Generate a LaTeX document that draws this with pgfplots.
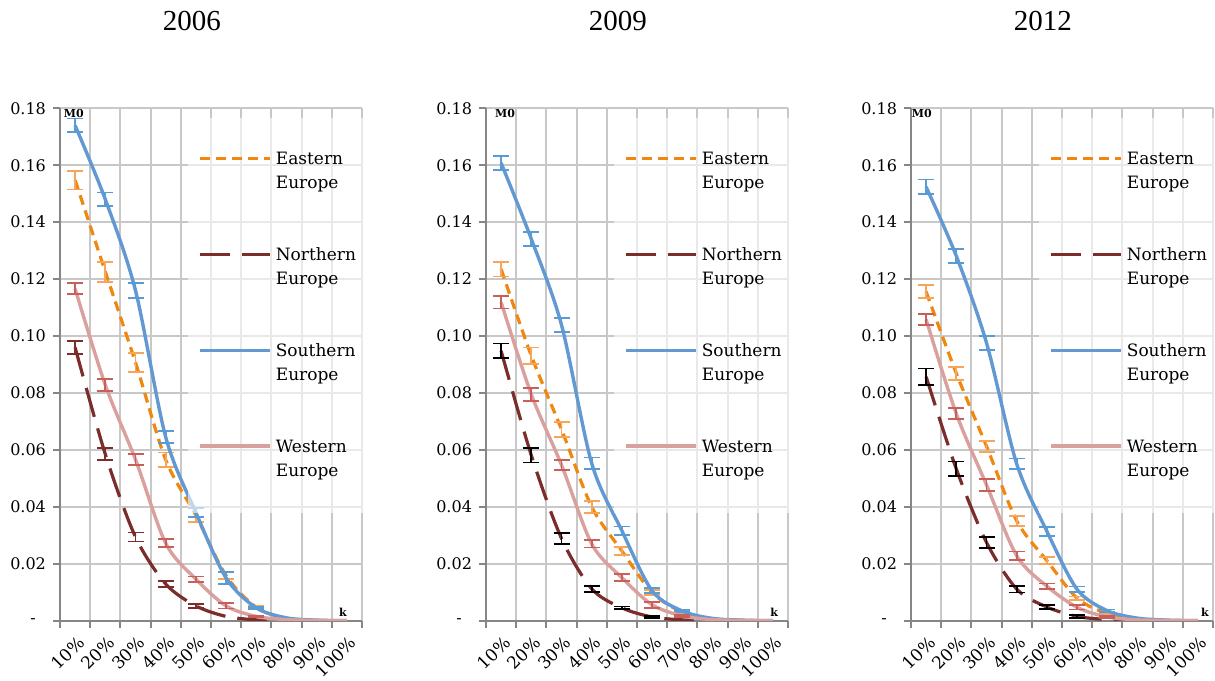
\documentclass[border=0pt]{standalone}
\usepackage{pgfplots}
\pgfplotsset{compat=1.18}
\usepackage{fontspec}
\setmainfont{DejaVu Serif}
\newfontfamily\titlefont{Liberation Serif}

\definecolor{eastc}{RGB}{240,135,15}
\definecolor{easte}{RGB}{247,165,90}
\definecolor{northc}{RGB}{122,45,42}
\definecolor{southc}{RGB}{98,153,211}
\definecolor{southe}{RGB}{91,155,213}
\definecolor{westc}{RGB}{218,160,157}
\definecolor{weste}{RGB}{200,95,90}
\definecolor{gridc}{RGB}{200,200,200}
\definecolor{axisc}{RGB}{134,134,134}

\pgfplotsset{
  panel/.style={
    scale only axis, width=151pt, height=256.2pt,
    anchor=south west,
    xmin=0.5, xmax=10.5, ymin=0, ymax=0.18,
    axis x line*=bottom, axis y line*=left,
    axis line style={axisc, line width=1pt, -},
    xtick={1,2,3,4,5,6,7,8,9,10},
    xticklabels={10\%,20\%,30\%,40\%,50\%,60\%,70\%,80\%,90\%,100\%},
    major x tick style={draw=none},
    minor xtick={0.5,1.5,2.5,3.5,4.5,5.5,6.5,7.5,8.5,9.5,10.5},
    xminorgrids=true, ymajorgrids=true,
    grid style={gridc, line width=1pt},
    minor grid style={gridc, line width=1pt},
    ytick={0,0.02,0.04,0.06,0.08,0.10,0.12,0.14,0.16,0.18},
    yticklabels={-\hphantom{0},0.02,0.04,0.06,0.08,0.10,0.12,0.14,0.16,0.18},
    tick align=outside,
    major tick length=3.5pt, minor tick length=3.5pt,
    tick style={axisc, line width=1pt},
    yticklabel style={font=\fontsize{8}{9}\selectfont},
    xticklabel style={font=\fontsize{8.5}{10}\selectfont, xshift=5.5pt, yshift=-3.5pt, rotate=45, anchor=east},
    title style={font=\titlefont\fontsize{14.5}{17}\selectfont, at={(0.437,1)}, anchor=base, yshift=33pt},
    legend style={at={(0.424,0.981)}, anchor=north west, draw=none, fill=white,
      fill opacity=0.6, text opacity=1, font=\fontsize{8.5}{12}\selectfont,
      cells={align=left, anchor=base west}, row sep=24pt, inner xsep=5pt, inner ysep=15pt},
    legend image code/.code={\draw[##1] (0pt,15pt) -- (35pt,15pt);},
    clip=true,
  },
  eline/.style={eastc, line width=1.6pt, dash pattern=on 5pt off 3pt, smooth},
  nline/.style={northc, line width=1.6pt, dash pattern=on 15pt off 6pt, smooth},
  sline/.style={southc, line width=1.7pt, smooth},
  wline/.style={westc, line width=1.7pt, smooth},
  ebar/.style={draw=none, forget plot, mark=none, error bars/.cd, y dir=both, y explicit,
     error mark options={rotate=90, mark size=4pt, line width=0.9pt, #1},
     error bar style={line width=0.9pt, #1}},
}
\newcommand{\labels}[2]{%
  \node[font=\bfseries\fontsize{5.5}{6}\selectfont] at (rel axis cs:#1,0.989) {M0};
  \node[font=\bfseries\fontsize{5.5}{6}\selectfont] at (rel axis cs:#2,0.016) {k};
}

\begin{document}
\begin{tikzpicture}
\useasboundingbox (0,0) rectangle (607.5pt,340pt);

% ---------------- 2006 ----------------
\begin{axis}[panel, at={(30pt,29.65pt)}, title={2006}]
\addplot[eline] coordinates {(1,0.1548)(2,0.1226)(3,0.0907)(4,0.0565)(5,0.0370)(6,0.0158)(7,0.0047)(8,0.0008)(9,0.0001)(10,0)};
\addlegendentry{Eastern\\Europe}
\addplot[ebar=easte] coordinates {(1,0.1548)+-(0,0.0033)(2,0.1226)+-(0,0.0035)(3,0.0907)+-(0,0.0032)(4,0.0565)+-(0,0.0026)(5,0.0370)+-(0,0.0024)(6,0.0158)+-(0,0.0011)(7,0.0047)+-(0,0.0005)};
\addplot[nline] coordinates {(1,0.0960)(2,0.0585)(3,0.0294)(4,0.0129)(5,0.0052)(6,0.0015)(7,0.0003)(8,0)(9,0)(10,0)};
\addlegendentry{Northern\\Europe}
\addplot[ebar=northc] coordinates {(1,0.0960)+-(0,0.0022)(2,0.0585)+-(0,0.0021)(3,0.0294)+-(0,0.0016)(4,0.0129)+-(0,0.0011)(5,0.0052)+-(0,0.0006)};
\addplot[sline] coordinates {(1,0.1740)(2,0.1480)(3,0.1160)(4,0.0645)(5,0.0380)(6,0.0150)(7,0.0045)(8,0.0010)(9,0.0002)(10,0)};
\addlegendentry{Southern\\Europe}
\addplot[ebar=southe] coordinates {(1,0.1740)+-(0,0.0024)(2,0.1480)+-(0,0.0024)(3,0.1160)+-(0,0.0025)(4,0.0645)+-(0,0.0021)(5,0.0380)+-(0,0.0016)(6,0.0150)+-(0,0.0021)(7,0.0045)+-(0,0.0004)};
\addplot[wline] coordinates {(1,0.1166)(2,0.0828)(3,0.0566)(4,0.0272)(5,0.0146)(6,0.0052)(7,0.0015)(8,0.0004)(9,0.0001)(10,0)};
\addlegendentry{Western\\Europe}
\addplot[ebar=weste] coordinates {(1,0.1166)+-(0,0.0019)(2,0.0828)+-(0,0.0021)(3,0.0566)+-(0,0.0019)(4,0.0272)+-(0,0.0014)(5,0.0146)+-(0,0.0009)(6,0.0052)+-(0,0.0009)(7,0.0015)+-(0,0.0003)};
\labels{0.046}{0.937}
\end{axis}

% ---------------- 2009 ----------------
\begin{axis}[panel, at={(243pt,29.65pt)}, title={2009}]
\addplot[eline] coordinates {(1,0.1235)(2,0.0931)(3,0.0672)(4,0.0400)(5,0.0245)(6,0.0099)(7,0.0030)(8,0.0007)(9,0.0001)(10,0)};
\addlegendentry{Eastern\\Europe}
\addplot[ebar=easte] coordinates {(1,0.1235)+-(0,0.0026)(2,0.0931)+-(0,0.0029)(3,0.0672)+-(0,0.0027)(4,0.0400)+-(0,0.0021)(5,0.0245)+-(0,0.0015)(6,0.0099)+-(0,0.0009)(7,0.0030)+-(0,0.0004)};
\addplot[nline] coordinates {(1,0.0948)(2,0.0581)(3,0.0289)(4,0.0112)(5,0.0045)(6,0.0013)(7,0.0003)(8,0)(9,0)(10,0)};
\addlegendentry{Northern\\Europe}
\addplot[ebar=black] coordinates {(1,0.0948)+-(0,0.0026)(2,0.0581)+-(0,0.0025)(3,0.0289)+-(0,0.0020)(4,0.0112)+-(0,0.0011)(5,0.0045)+-(0,0.0005)(6,0.0013)+-(0,0.0003)};
\addplot[sline] coordinates {(1,0.1608)(2,0.1341)(3,0.1039)(4,0.0553)(5,0.0316)(6,0.0105)(7,0.0034)(8,0.0008)(9,0.0002)(10,0)};
\addlegendentry{Southern\\Europe}
\addplot[ebar=southe] coordinates {(1,0.1608)+-(0,0.0025)(2,0.1341)+-(0,0.0025)(3,0.1039)+-(0,0.0024)(4,0.0553)+-(0,0.0020)(5,0.0316)+-(0,0.0015)(6,0.0105)+-(0,0.0009)(7,0.0034)+-(0,0.0004)};
\addplot[wline] coordinates {(1,0.1119)(2,0.0795)(3,0.0547)(4,0.0270)(5,0.0151)(6,0.0056)(7,0.0017)(8,0.0004)(9,0.0001)(10,0)};
\addlegendentry{Western\\Europe}
\addplot[ebar=weste] coordinates {(1,0.1119)+-(0,0.0022)(2,0.0795)+-(0,0.0022)(3,0.0547)+-(0,0.0018)(4,0.0270)+-(0,0.0013)(5,0.0151)+-(0,0.0012)(6,0.0056)+-(0,0.0011)(7,0.0017)+-(0,0.0003)};
\labels{0.063}{0.954}
\end{axis}

% ---------------- 2012 ----------------
\begin{axis}[panel, at={(455.5pt,29.65pt)}, title={2012}]
\addplot[eline] coordinates {(1,0.1156)(2,0.0869)(3,0.0613)(4,0.0351)(5,0.0211)(6,0.0079)(7,0.0025)(8,0.0006)(9,0.0001)(10,0)};
\addlegendentry{Eastern\\Europe}
\addplot[ebar=easte] coordinates {(1,0.1156)+-(0,0.0023)(2,0.0869)+-(0,0.0023)(3,0.0613)+-(0,0.0019)(4,0.0351)+-(0,0.0017)(5,0.0211)+-(0,0.0013)(6,0.0079)+-(0,0.0006)(7,0.0025)+-(0,0.0003)};
\addplot[nline] coordinates {(1,0.0857)(2,0.0533)(3,0.0275)(4,0.0111)(5,0.0048)(6,0.0015)(7,0.0004)(8,0)(9,0)(10,0)};
\addlegendentry{Northern\\Europe}
\addplot[ebar=black] coordinates {(1,0.0857)+-(0,0.0029)(2,0.0533)+-(0,0.0026)(3,0.0275)+-(0,0.0020)(4,0.0111)+-(0,0.0012)(5,0.0048)+-(0,0.0008)(6,0.0015)+-(0,0.0005)};
\addplot[sline] coordinates {(1,0.1524)(2,0.1281)(3,0.0976)(4,0.0551)(5,0.0314)(6,0.0110)(7,0.0035)(8,0.0009)(9,0.0002)(10,0)};
\addlegendentry{Southern\\Europe}
\addplot[ebar=southe] coordinates {(1,0.1524)+-(0,0.0026)(2,0.1281)+-(0,0.0025)(3,0.0976)+-(0,0.0025)(4,0.0551)+-(0,0.0019)(5,0.0314)+-(0,0.0016)(6,0.0110)+-(0,0.0010)(7,0.0035)+-(0,0.0004)};
\addplot[wline] coordinates {(1,0.1058)(2,0.0727)(3,0.0477)(4,0.0228)(5,0.0121)(6,0.0047)(7,0.0013)(8,0.0003)(9,0.0001)(10,0)};
\addlegendentry{Western\\Europe}
\addplot[ebar=weste] coordinates {(1,0.1058)+-(0,0.0019)(2,0.0727)+-(0,0.0019)(3,0.0477)+-(0,0.0020)(4,0.0228)+-(0,0.0015)(5,0.0121)+-(0,0.0010)(6,0.0047)+-(0,0.0008)(7,0.0013)+-(0,0.0003)};
\labels{0.036}{0.973}
\end{axis}
\end{tikzpicture}
\end{document}
